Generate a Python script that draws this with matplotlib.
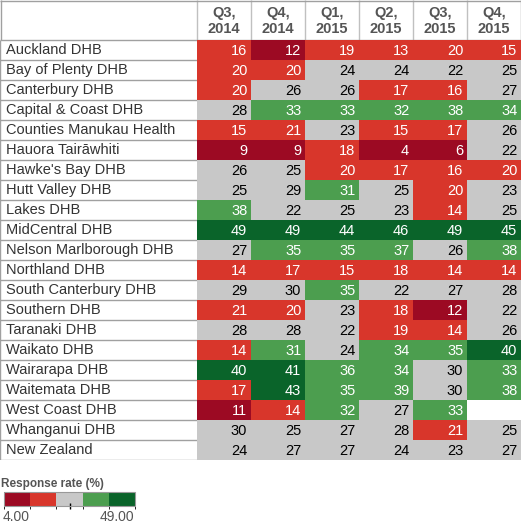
import numpy as np
import matplotlib
matplotlib.use("Agg")
import matplotlib.pyplot as plt
from matplotlib.colors import ListedColormap, BoundaryNorm
from matplotlib.colorbar import ColorbarBase

plt.rcParams['font.family'] = ['Liberation Sans', 'DejaVu Sans']

quarters = ["Q3,\n2014", "Q4,\n2014", "Q1,\n2015", "Q2,\n2015", "Q3,\n2015", "Q4,\n2015"]
dhbs = ["Auckland DHB", "Bay of Plenty DHB", "Canterbury DHB", "Capital & Coast DHB",
        "Counties Manukau Health", "Hauora Tairāwhiti", "Hawke's Bay DHB", "Hutt Valley DHB",
        "Lakes DHB", "MidCentral DHB", "Nelson Marlborough DHB", "Northland DHB",
        "South Canterbury DHB", "Southern DHB", "Taranaki DHB", "Waikato DHB",
        "Wairarapa DHB", "Waitemata DHB", "West Coast DHB", "Whanganui DHB", "New Zealand"]
rates = [
    [16, 12, 19, 13, 20, 15],
    [20, 20, 24, 24, 22, 25],
    [20, 26, 26, 17, 16, 27],
    [28, 33, 33, 32, 38, 34],
    [15, 21, 23, 15, 17, 26],
    [9, 9, 18, 4, 6, 22],
    [26, 25, 20, 17, 16, 20],
    [25, 29, 31, 25, 20, 23],
    [38, 22, 25, 23, 14, 25],
    [49, 49, 44, 46, 49, 45],
    [27, 35, 35, 37, 26, 38],
    [14, 17, 15, 18, 14, 14],
    [29, 30, 35, 22, 27, 28],
    [21, 20, 23, 18, 12, 22],
    [28, 28, 22, 19, 14, 26],
    [14, 31, 24, 34, 35, 40],
    [40, 41, 36, 34, 30, 33],
    [17, 43, 35, 39, 30, 38],
    [11, 14, 32, 27, 33, None],
    [30, 25, 27, 28, 21, 25],
    [24, 27, 27, 24, 23, 27],
]
class_colors = ["#9c0a23", "#d8362b", "#c8c8c8", "#4c9e4f", "#0a642a"]
vmin, vmax = 4, 49

W, H = 521, 525
fig = plt.figure(figsize=(W / 100, H / 100), dpi=100)

def px_axes(x0, y0, x1, y1):
    return fig.add_axes([x0 / W, 1 - y1 / H, (x1 - x0) / W, (y1 - y0) / H])

name_x1, hdr_y1, tbl_y1 = 197, 40, 460
nrows, ncols = len(dhbs), len(quarters)

cmap = ListedColormap(class_colors)
bounds = np.linspace(vmin, vmax, len(class_colors) + 1)
norm = BoundaryNorm(bounds, cmap.N)

Z = np.ma.masked_invalid(np.array([[np.nan if v is None else v for v in r] for r in rates], dtype=float))

# heatmap cells
ax = px_axes(name_x1, hdr_y1, W, tbl_y1)
ax.pcolormesh(np.arange(ncols + 1), np.arange(nrows + 1), Z, cmap=cmap, norm=norm)
ax.set_xlim(0, ncols)
ax.set_ylim(nrows, 0)
ax.axis("off")
for i, row in enumerate(rates):
    for j, v in enumerate(row):
        if v is None:
            continue
        c = "black" if 22 <= v < 31 else "white"
        ax.text(j + 0.93, i + 0.56, str(v), ha="right", va="center", fontsize=10.5, color=c)

# name column
axn = px_axes(0, hdr_y1, name_x1, tbl_y1)
axn.set_xlim(0, 1)
axn.set_ylim(nrows, 0)
axn.axis("off")
for i, name in enumerate(dhbs):
    axn.text(0.03, i + 0.48, name, ha="left", va="center", fontsize=10.5, color="#333333")
axn.hlines(np.arange(nrows + 1), 0, 1, color="#a0a0a0", lw=1)
axn.vlines([0.002], 0, nrows, color="#a0a0a0", lw=1)

# header
axh = px_axes(0, 0, W, hdr_y1)
axh.set_xlim(0, W)
axh.set_ylim(hdr_y1, 0)
axh.axis("off")
col_w = (W - name_x1) / ncols
for j, q in enumerate(quarters):
    axh.text(name_x1 + (j + 0.5) * col_w, 21, q, ha="center", va="center",
             fontsize=10.5, fontweight="bold", color="#555555", linespacing=1.1)
axh.vlines(name_x1 + np.arange(ncols) * col_w, 0, hdr_y1, color="#c0c0c0", lw=1)
axh.vlines([0.5, W - 0.5], 0, hdr_y1, color="#a0a0a0", lw=1)
axh.hlines([0.5, hdr_y1], 0, W, color="#a0a0a0", lw=1)

# legend
fig.text(1 / W, 1 - 484 / H, "Response rate (%)", ha="left", va="center",
         fontsize=8.5, fontweight="bold", color="#555555")
cax = px_axes(4, 492, 135, 506)
cb = ColorbarBase(cax, cmap=cmap, norm=norm, orientation="horizontal",
                  ticks=[(vmin + vmax) / 2], drawedges=False)
cb.outline.set_edgecolor("#999999")
cax.tick_params(axis="x", length=4, width=1, direction="inout", labelbottom=False, color="black")
fig.text(3 / W, 1 - 517 / H, f"{vmin:.2f}", ha="left", va="center", fontsize=10, color="#555555")
fig.text(134 / W, 1 - 517 / H, f"{vmax:.2f}", ha="right", va="center", fontsize=10, color="#555555")

fig.savefig("out.png", dpi=100)
